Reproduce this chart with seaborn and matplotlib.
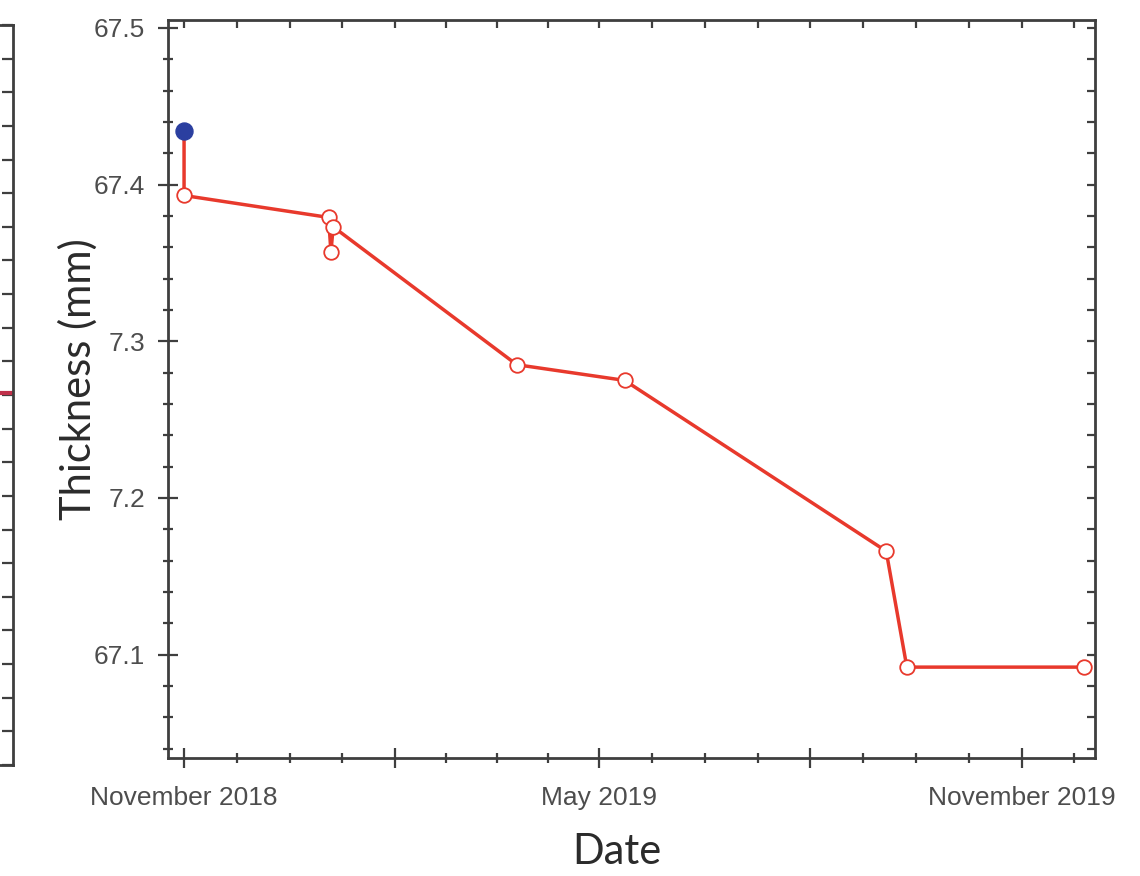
import pandas as pd
import numpy as np
import seaborn as sns
import matplotlib.pyplot as plt
import matplotlib.dates as mdates
from matplotlib.ticker import MultipleLocator, FixedLocator, FixedFormatter

# data
start_date = ["2018-11-01"]
start_thickness = [67.434]

red_dates = ["2018-11-01", "2019-01-03", "2019-01-04", "2019-01-05",
             "2019-03-26", "2019-05-12", "2019-09-03", "2019-09-12", "2019-11-28"]
red_thickness = [67.393, 67.379, 67.357, 67.373,
                 67.285, 67.275, 67.166, 67.092, 67.092]

y_ticks = [67.1, 67.2, 67.3, 67.4, 67.5]
y_tick_labels = ["67.1", "7.2", "7.3", "67.4", "67.5"]
x_major = ["2018-11-01", "2019-02-01", "2019-05-01", "2019-08-01", "2019-11-01", "2020-02-01"]
x_labelled_months = [5, 11]

# sliver of the neighbouring panel on the left
left_panel_x = [0.9, 1.0]
left_panel_y = [11.07, 11.07]

df_line = pd.DataFrame({
    "date": pd.to_datetime(start_date + red_dates),
    "thickness": start_thickness + red_thickness,
})
df_red = pd.DataFrame({"date": pd.to_datetime(red_dates), "thickness": red_thickness})
df_blue = pd.DataFrame({"date": pd.to_datetime(start_date), "thickness": start_thickness})

# tick positions: 3 minor ticks between each quarterly major tick
major_num = mdates.date2num(pd.to_datetime(x_major))
minor_num = np.concatenate([np.linspace(a, b, 5)[1:4] for a, b in zip(major_num[:-1], major_num[1:])])

sns.set_style("white", rc={
    "axes.edgecolor": "#3f3f3f",
    "xtick.color": "#3f3f3f",
    "ytick.color": "#3f3f3f",
})
plt.rcParams["font.family"] = ["Liberation Sans", "DejaVu Sans"]

red = "#e8392c"
grey_txt = "#4d4d4d"
lbl_font = ["Lato", "DejaVu Sans"]

fig = plt.figure(figsize=(11.4, 8.76), dpi=100)
ax = fig.add_axes([168 / 1140, 1 - 758 / 876, (1095 - 168) / 1140, (758 - 20) / 876])

sns.lineplot(data=df_line, x="date", y="thickness", estimator=None, sort=False,
             color=red, linewidth=2.5, ax=ax)
sns.scatterplot(data=df_red, x="date", y="thickness", marker="o", s=110,
                facecolors="white", edgecolor=red, linewidth=1.3, zorder=3, ax=ax)
sns.scatterplot(data=df_blue, x="date", y="thickness", marker="o", s=150,
                color="#2b3fa0", edgecolor="#2b3fa0", zorder=4, ax=ax)

ax.set_xlim(pd.Timestamp("2018-10-25"), pd.Timestamp("2019-12-03"))
ax.set_ylim(67.034, 67.505)

ax.xaxis.set_major_locator(FixedLocator(major_num))
ax.xaxis.set_major_formatter(
    plt.FuncFormatter(lambda v, p: mdates.num2date(v).strftime("%B %Y")
                      if mdates.num2date(v).month in x_labelled_months else ""))
ax.xaxis.set_minor_locator(FixedLocator(minor_num))
ax.yaxis.set_major_locator(FixedLocator(y_ticks))
ax.yaxis.set_major_formatter(FixedFormatter(y_tick_labels))
ax.yaxis.set_minor_locator(MultipleLocator(0.02))

ax.tick_params(which="both", bottom=True, left=True, top=False, right=False)
ax.tick_params(which="major", direction="inout", length=15, width=1.6,
               labelsize=19, labelcolor=grey_txt)
ax.tick_params(axis="x", which="major", pad=13)
ax.tick_params(axis="y", which="major", pad=9)
ax.tick_params(which="minor", direction="inout", length=7, width=1.6)

for s in ax.spines.values():
    s.set_linewidth(2.0)
    s.set_color("#3f3f3f")

# inward ticks on top and right
top = ax.secondary_xaxis("top")
top.xaxis.set_major_locator(FixedLocator(major_num))
top.xaxis.set_minor_locator(FixedLocator(minor_num))
top.tick_params(which="both", top=True, direction="in", length=6, width=1.6, labeltop=False)
right = ax.secondary_yaxis("right")
right.yaxis.set_major_locator(FixedLocator(y_ticks))
right.yaxis.set_minor_locator(MultipleLocator(0.02))
right.tick_params(which="both", right=True, direction="in", length=6, width=1.6, labelright=False)

ax.set_xlabel("Date", fontsize=30, family=lbl_font, color="#2b2b2b", labelpad=16)
ax.set_ylabel("Thickness (mm)", fontsize=30, family=lbl_font, color="#2b2b2b", labelpad=-3)
ax.xaxis.label.set_x(0.484)
ax.yaxis.label.set_y(0.5136)

# neighbouring panel, almost entirely off the figure
ax0 = fig.add_axes([-0.5, 1 - 765 / 876, 0.5 + 13 / 1140, (765 - 25) / 876])
ax0.plot(left_panel_x, left_panel_y, color="#c0304a", linewidth=3)
ax0.set_xlim(0, 1)
ax0.set_ylim(0, 22)
ax0.yaxis.set_major_locator(MultipleLocator(1))
ax0.yaxis.tick_right()
ax0.tick_params(axis="y", right=True, direction="in", length=8, width=1.6, labelright=False)
ax0.set_xticks([])
for s in ax0.spines.values():
    s.set_linewidth(2.0)
    s.set_color("#3f3f3f")

fig.savefig("out.png", dpi=100)
